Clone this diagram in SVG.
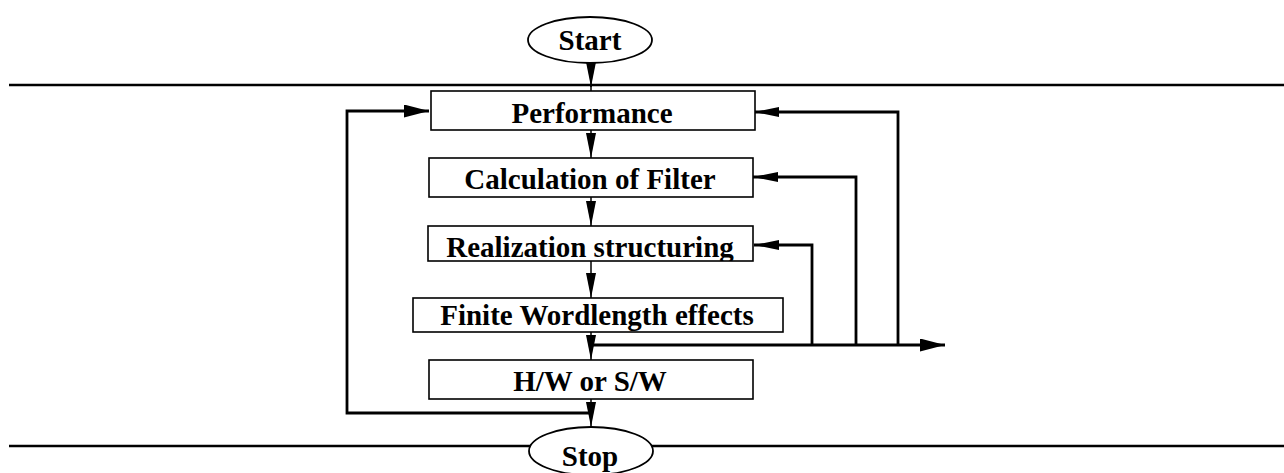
<svg xmlns="http://www.w3.org/2000/svg" width="1284" height="473" viewBox="0 0 1284 473">
<style>
.box{fill:#fff;stroke:#000;stroke-width:1.6}
.term{fill:#fff;stroke:#000;stroke-width:1.8}
.lbl{font-family:"Liberation Serif","Times New Roman",serif;font-weight:bold;font-size:29px;text-anchor:middle;fill:#000}
.rule{stroke:#000;stroke-width:2.6;fill:none}
.flow{stroke:#000;stroke-width:1.5;fill:none}
.fb{stroke:#000;stroke-width:2.8;fill:none}
</style>
<defs>
<marker id="ah" markerUnits="userSpaceOnUse" markerWidth="26" markerHeight="11" refX="25" refY="5" orient="auto">
<path d="M0,0 L25,5 L0,10 z" fill="#000"/>
</marker>
<marker id="ahv" markerUnits="userSpaceOnUse" markerWidth="26" markerHeight="11" refX="25" refY="5" orient="auto">
<path d="M0,0 L25,5 L0,10 z" fill="#000"/>
</marker>
<marker id="ahl" markerUnits="userSpaceOnUse" markerWidth="26" markerHeight="14" refX="25" refY="6.5" orient="auto">
<path d="M0,0 L25,6.5 L0,13 z" fill="#000"/>
</marker>
<clipPath id="c3"><rect x="428" y="226" width="325" height="35"/></clipPath>
<clipPath id="c4"><rect x="413" y="298" width="370" height="34"/></clipPath>
</defs>

<line class="rule" x1="9" y1="85" x2="1284" y2="85"/>
<line class="rule" x1="9" y1="446" x2="1284" y2="446"/>

<g id="connectors">
<line class="flow" x1="591" y1="63" x2="591" y2="87" marker-end="url(#ahv)"/>
<line class="flow" x1="591" y1="85" x2="591" y2="91"/>
<line class="flow" x1="591" y1="130" x2="591" y2="158" marker-end="url(#ahv)"/>
<line class="flow" x1="591" y1="197" x2="591" y2="226" marker-end="url(#ahv)"/>
<line class="flow" x1="591" y1="261" x2="591" y2="298" marker-end="url(#ahv)"/>
<line class="flow" x1="591" y1="332" x2="591" y2="360" marker-end="url(#ahv)"/>
<line class="flow" x1="591" y1="399" x2="591" y2="427" marker-end="url(#ahv)"/>
<polyline class="fb" points="591,345 945,345" marker-end="url(#ahl)"/>
<polyline class="fb" points="898,345 898,112 754,112" marker-end="url(#ah)"/>
<polyline class="fb" points="856,345 856,177 753,177" marker-end="url(#ah)"/>
<polyline class="fb" points="812,345 812,245 754,245" marker-end="url(#ah)"/>
<polyline class="fb" points="591,413 347,413 347,111 429,111" marker-end="url(#ahl)"/>
</g>

<g id="start">
<ellipse class="term" cx="590" cy="40" rx="62" ry="23"/>
<text class="lbl" x="590" y="50">Start</text>
</g>
<g id="performance">
<rect class="box" x="431" y="91" width="324" height="39"/>
<text class="lbl" x="592" y="123">Performance</text>
</g>
<g id="calculation">
<rect class="box" x="429" y="158" width="324" height="39"/>
<text class="lbl" x="590" y="189">Calculation of Filter</text>
</g>
<g id="realization">
<rect class="box" x="428" y="226" width="325" height="35"/>
<text class="lbl" x="590" y="257" clip-path="url(#c3)">Realization structuring</text>
</g>
<g id="finite">
<rect class="box" x="413" y="298" width="370" height="34"/>
<text class="lbl" x="597" y="325" clip-path="url(#c4)">Finite Wordlength effects</text>
</g>
<g id="hwsw">
<rect class="box" x="429" y="360" width="324" height="39"/>
<text class="lbl" x="590" y="391">H/W or S/W</text>
</g>
<g id="stop">
<ellipse class="term" cx="591" cy="451" rx="62" ry="24"/>
<text class="lbl" x="590" y="466">Stop</text>
</g>
</svg>
